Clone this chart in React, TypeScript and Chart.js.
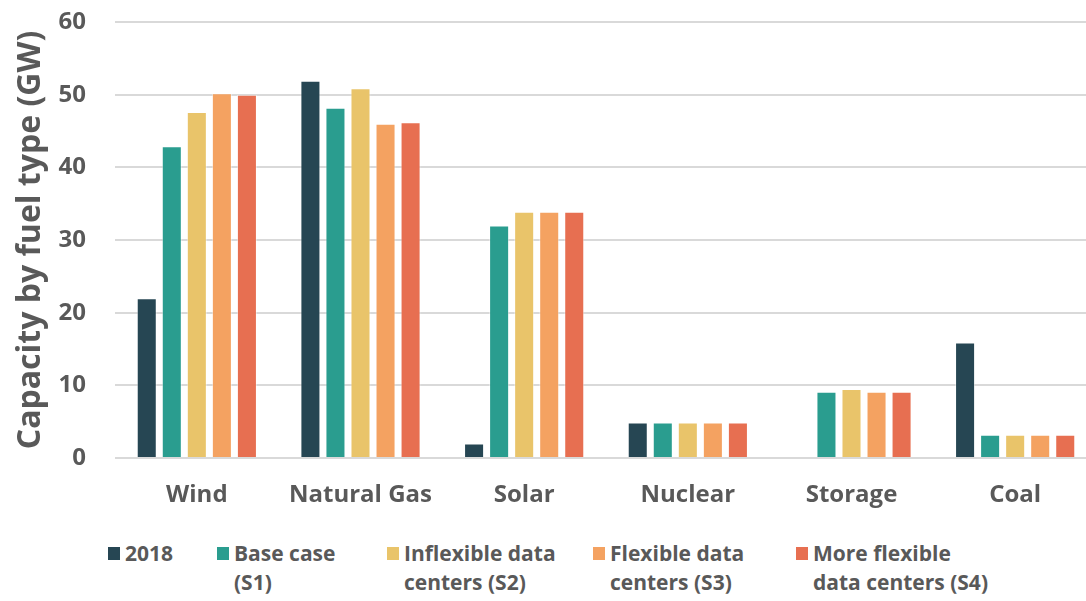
import React, { useEffect, useRef } from "react";
import Chart from "chart.js/auto";

// Installed capacity by fuel type (GW)
const categories = ["Wind", "Natural Gas", "Solar", "Nuclear", "Storage", "Coal"];
const yTicks = [0, 10, 20, 30, 40, 50, 60];

const values2018 = [22.0, 51.9, 2.0, 4.9, null, 15.9];
const valuesBase = [42.9, 48.2, 32.0, 4.9, 9.1, 3.2];
const valuesInflexible = [47.6, 50.9, 33.9, 4.9, 9.5, 3.2];
const valuesFlexible = [50.2, 46.0, 33.9, 4.9, 9.1, 3.2];
const valuesMoreFlexible = [50.0, 46.2, 33.9, 4.9, 9.1, 3.2];

const seriesLabels = [
  ["2018"],
  ["Base case", "(S1)"],
  ["Inflexible data", "centers (S2)"],
  ["Flexible data", "centers (S3)"],
  ["More flexible", "data centers (S4)"],
];
const seriesColors = ["#264653", "#2A9D8F", "#E9C46A", "#F4A261", "#E76F51"];
const seriesValues = [values2018, valuesBase, valuesInflexible, valuesFlexible, valuesMoreFlexible];

const TEXT = "#595959";
const FONT = "'Open Sans', 'DejaVu Sans', sans-serif";

// horizontal position of each legend swatch
const legendLeft = [108, 217, 387, 593, 796];

export default function App() {
  const canvasRef = useRef<HTMLCanvasElement | null>(null);

  useEffect(() => {
    const canvas = canvasRef.current;
    if (!canvas) return;
    const chart = new Chart(canvas, {
      type: "bar",
      data: {
        labels: categories,
        datasets: seriesValues.map((vals, i) => ({
          label: seriesLabels[i].join(" "),
          data: vals,
          backgroundColor: seriesColors[i],
          borderColor: "rgba(255,255,255,0.45)",
          borderWidth: 1,
          categoryPercentage: 0.765,
          barPercentage: 0.8,
        })),
      },
      options: {
        responsive: false,
        animation: false,
        layout: { padding: { top: 22, left: 0, right: 0, bottom: 0 } },
        plugins: {
          legend: { display: false },
          tooltip: { enabled: false },
        },
        scales: {
          x: {
            grid: { display: false, drawTicks: false },
            border: { display: false },
            ticks: {
              color: TEXT,
              font: { family: FONT, size: 24, weight: "bold" },
              padding: 23,
              maxRotation: 0,
              autoSkip: false,
            },
            afterFit: (scale: any) => {
              scale.height = 62;
            },
          },
          y: {
            min: 0,
            max: 60,
            afterBuildTicks: (scale: any) => {
              scale.ticks = yTicks.map((v) => ({ value: v }));
            },
            grid: {
              color: "#d9d9d9",
              lineWidth: 2,
              drawTicks: true,
              tickLength: 29,
              tickColor: "rgba(0,0,0,0)",
            },
            border: { display: false },
            ticks: {
              color: TEXT,
              font: { family: FONT, size: 24, weight: "bold" },
              padding: 0,
            },
            title: {
              display: true,
              text: "Capacity by fuel type (GW)",
              color: TEXT,
              font: { family: FONT, size: 32, weight: "bold" },
              padding: { top: 12, bottom: 0 },
            },
            afterFit: (scale: any) => {
              scale.width = 115;
            },
          },
        },
      },
    });
    return () => chart.destroy();
  }, []);

  return (
    <div
      style={{
        position: "absolute",
        left: 0,
        top: 0,
        width: 1086,
        height: 601,
        overflow: "hidden",
        background: "#ffffff",
      }}
    >
      <canvas ref={canvasRef} width={1097} height={520} style={{ display: "block" }} />
      {seriesLabels.map((lines, i) => (
        <div
          key={i}
          style={{
            position: "absolute",
            left: legendLeft[i],
            top: 539,
            display: "flex",
            alignItems: "flex-start",
            fontFamily: FONT,
            fontWeight: 700,
            fontSize: 21,
            lineHeight: "29px",
            color: TEXT,
            whiteSpace: "nowrap",
          }}
        >
          <div
            style={{
              width: 12,
              height: 13,
              marginTop: 8,
              marginRight: 5,
              background: seriesColors[i],
            }}
          />
          <div>
            {lines.map((t, j) => (
              <div key={j}>{t}</div>
            ))}
          </div>
        </div>
      ))}
    </div>
  );
}
